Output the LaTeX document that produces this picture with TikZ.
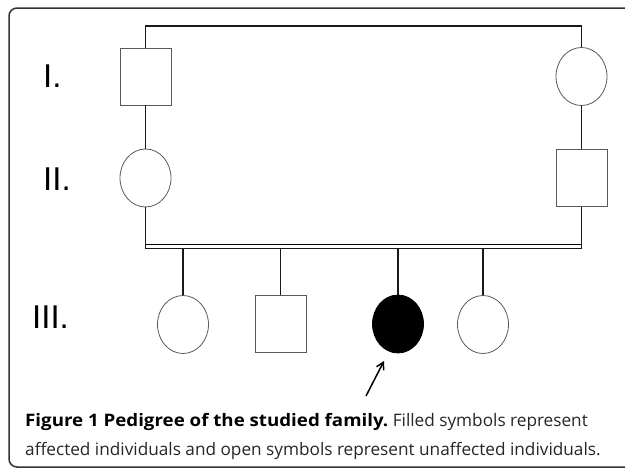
\documentclass[tikz,border=0pt]{standalone}
\usepackage{fontspec}
\setmainfont{Open Sans}
\newfontfamily\genfont{Liberation Sans}
\usepackage{graphicx}
\usepackage{tikz}
\usetikzlibrary{positioning,%
  shapes.geometric,%
  arrows.meta,%
  calc
}
\definecolor{rahmen}{gray}{0.2}
\definecolor{kontur}{gray}{0.35}

\begin{document}
\begin{tikzpicture}
                    [
                        x=1pt,y=-1pt,
                        mann/.style={draw=kontur,thick,rectangle,minimum width=51pt,minimum height=57pt,inner sep=0pt},
                        frau/.style={draw=kontur,thick,ellipse,minimum width=51pt,minimum height=58pt,inner sep=0pt},
                        krank/.style={fill=black,draw=black},
                        gen/.style={anchor=base west,inner sep=0pt,font=\genfont\fontsize{33}{33}\selectfont},
                        linie/.style={line width=1.8pt,draw=black!90},
                        every path/.style={line cap=butt}
                    ]
                    
                    % Rahmen
                    \useasboundingbox (0,0) rectangle (625,469);
                    \draw[rahmen,line width=1.5pt,rounded corners=8pt] (630,8) -- (9,8) -- (9,467) -- (630,467);
                    
                    % Generationen
                    \node[gen] (g1) at (43,87) {I.};
                    \node[gen] (g2) at (43,190) {II.};
                    \node[gen] (g3) at (32,328) {III.};
                    
                    % Personen
                    \node[mann] (i1) at (145.5,76.5) {};
                    \node[frau] (i2) at (581.5,76.5) {};
                    \node[frau] (ii1) at (145.5,178) {};
                    \node[mann] (ii2) at (581.5,178) {};
                    \node[frau] (iii1) at (183,324.5) {};
                    \node[mann] (iii2) at (280.5,323.5) {};
                    \node[frau,krank] (iii3) at (398,324) {};
                    \node[frau] (iii4) at (483,324.5) {};
                    
                    % Linien
                    \coordinate (sib) at (360,248.5);
                    \draw[linie] (i1.north) -- ++(0,-22) -| (i2.north);
                    \draw[linie] (i1.south) -- (ii1.north);
                    \draw[linie] (i2.south) -- (ii2.north);
                    \draw[linie] (ii1.south) |- (sib) -| (ii2.south);
                    \draw[line width=1.3pt] (ii1.south |- 0,244.5) -- (ii2.south |- 0,244.5);
                    \foreach \k in {iii1,iii2,iii3,iii4}
                        \draw[linie] (\k.north) -- (\k.north |- sib);
                    
                    % Pfeil
                    \coordinate (pf) at (366,396);
                    \draw[line width=1.5pt,-{Straight Barb[length=7pt,width=8pt]}] (pf) -- ++(18,-35);
                    
                    % Legende
                    \node[anchor=base west,inner sep=0pt,font=\fontsize{17.2}{20}\selectfont] (cap1) at (25,426)
                        {\scalebox{1.088}[1]{\textbf{Figure 1 Pedigree of the studied family.}} \textcolor{black!85}{Filled symbols represent}};
                    \node[anchor=base west,inner sep=0pt,font=\fontsize{17.2}{20}\selectfont,text=black!85] (cap2) at (25,455)
                        {affected individuals and open symbols represent unaffected individuals.};
                \end{tikzpicture}
\end{document}
